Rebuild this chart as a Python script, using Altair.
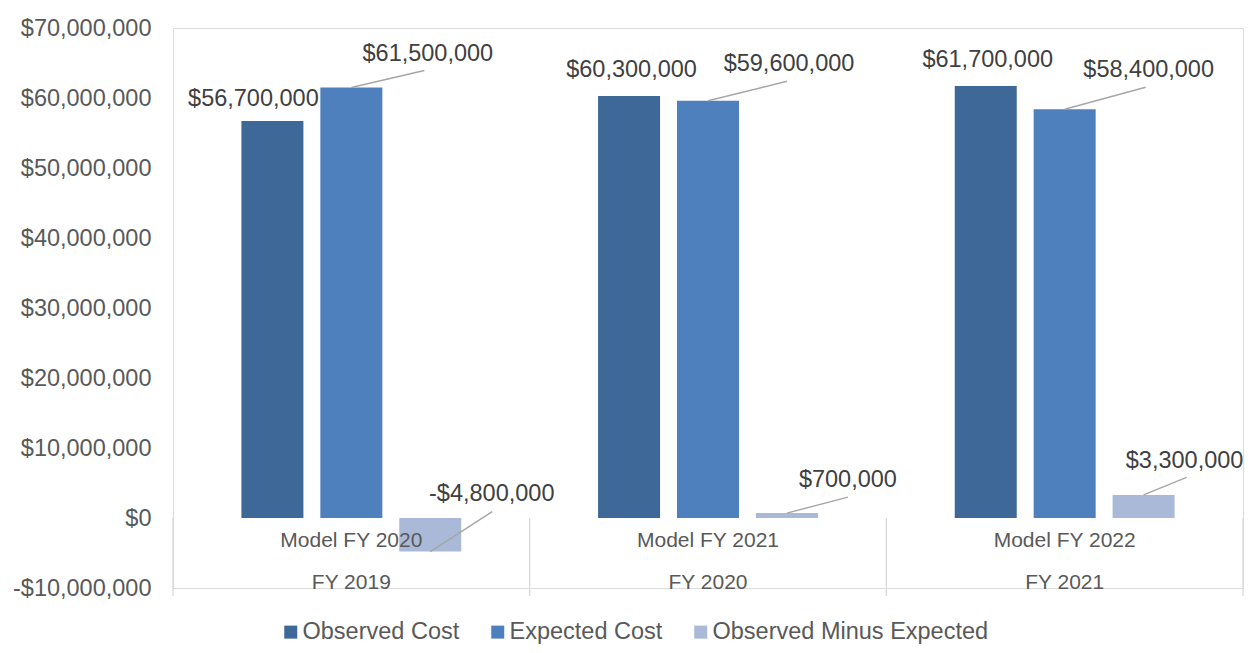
import altair as alt
import pandas as pd

# ---- data ----
model_years = ["Model FY 2020", "Model FY 2021", "Model FY 2022"]
fiscal_years = ["FY 2019", "FY 2020", "FY 2021"]
series = ["Observed Cost", "Expected Cost", "Observed Minus Expected"]
observed = [56700000, 60300000, 61700000]
expected = [61500000, 59600000, 58400000]
difference = [-4800000, 700000, 3300000]
y_ticks = [-10000000, 0, 10000000, 20000000, 30000000, 40000000, 50000000, 60000000, 70000000]

# ---- styling / layout ----
colors = ["#3E6898", "#4E80BD", "#A9B9D7"]
FONT = "Liberation Sans"
W, H = 1070, 560
STEP = 79 / 357          # spacing between bars inside one group (group = 1 unit)
BAR_W = 62
# label offsets in pixels from the bar end, per group, per series
label_dx = [[-19, 76.5, 61.5], [2.5, 81, 61], [2, 84, 41]]
label_dy = [[-22.6, -34, -58], [-26, -36.7, -33], [-26, -39, -34]]
# leader lines (pixels from bar end) or None
leaders = [[None, (73, -17), (62, -40)], [None, (79, -19.5), (61, -16)], [None, (81, -22), (43, -17.6)]]

rows = []
for gi in range(len(model_years)):
    for si, vals in enumerate([observed, expected, difference]):
        rows.append({"group": gi, "series": series[si], "si": si, "value": vals[gi]})
df = pd.DataFrame(rows)

cats = pd.DataFrame({"group": list(range(len(model_years))), "model": model_years, "fy": fiscal_years})
bounds = pd.DataFrame({"b": list(range(len(model_years) + 1))})

fmt = "(datum.value < 0 ? '-' : '') + '$' + format(abs(datum.value), ',')"

xscale = alt.Scale(domain=[0, len(model_years)], nice=False, zero=False, padding=0)
X = alt.X("xc:Q", scale=xscale, axis=None)
Y = alt.Y(
    "value:Q",
    stack=None,
    scale=alt.Scale(domain=[-10000000, 70000000], nice=False),
    axis=alt.Axis(
        title=None, values=y_ticks, labelExpr=fmt, ticks=False, domain=False,
        labelFontSize=23.5, labelColor="#595959", labelPadding=22, labelFont=FONT,
        gridColor="#D9D9D9", gridWidth=1.3,
    ),
)

base = alt.Chart(df).transform_calculate(
    xc=f"datum.group + 0.5 + (datum.si - 1) * {STEP}",
    label=fmt,
)

bars = base.mark_bar(width=BAR_W).encode(
    x=X,
    y=Y,
    color=alt.Color(
        "series:N",
        scale=alt.Scale(domain=series, range=colors),
        legend=alt.Legend(
            title=None, orient="none", legendX=106, legendY=592, direction="horizontal",
            symbolType="square", symbolSize=169, symbolStrokeWidth=0,
            labelFontSize=23.5, labelColor="#595959", labelFont=FONT,
            labelLimit=500, columnPadding=26, labelOffset=0,
        ),
    ),
)

layers = []

# separators of the category table
seps = alt.Chart(bounds).mark_rule(color="#D9D9D9", strokeWidth=1.3).encode(
    x=alt.X("b:Q", scale=xscale, axis=None),
    y=alt.datum(0),
    y2=alt.value(H + 8),
)
layers.append(seps)
layers.append(bars)

for gi in range(len(model_years)):
    for si in range(len(series)):
        sel = base.transform_filter(f"datum.group == {gi} && datum.si == {si}")
        ld = leaders[gi][si]
        if ld is not None:
            layers.append(
                sel.mark_rule(color="#A6A6A6", strokeWidth=1.4, x2Offset=ld[0], y2Offset=ld[1]).encode(
                    x=X, y=Y, x2=alt.X2("xc:Q"), y2=alt.Y2("value:Q")
                )
            )
        layers.append(
            sel.mark_text(
                dx=label_dx[gi][si], dy=label_dy[gi][si], fontSize=23.5, font=FONT,
                color="#404040", baseline="middle", align="center",
            ).encode(x=X, y=Y, text="label:N")
        )

cat_base = alt.Chart(cats).transform_calculate(xg="datum.group + 0.5")
layers.append(
    cat_base.mark_text(fontSize=21, font=FONT, color="#595959", baseline="middle").encode(
        x=alt.X("xg:Q", scale=xscale, axis=None), y=alt.value(513), text="model:N"
    )
)
layers.append(
    cat_base.mark_text(fontSize=21, font=FONT, color="#595959", baseline="middle").encode(
        x=alt.X("xg:Q", scale=xscale, axis=None), y=alt.value(555), text="fy:N"
    )
)

chart = alt.layer(*layers).properties(
    width=W,
    height=H,
    autosize=alt.AutoSizeParams(type="none"),
    padding={"left": 165, "top": 20, "right": 1, "bottom": 57},
    background="white",
).configure_view(strokeWidth=0).configure(font=FONT)

chart.save("out.html", embed_options={"renderer": "svg", "actions": False})
